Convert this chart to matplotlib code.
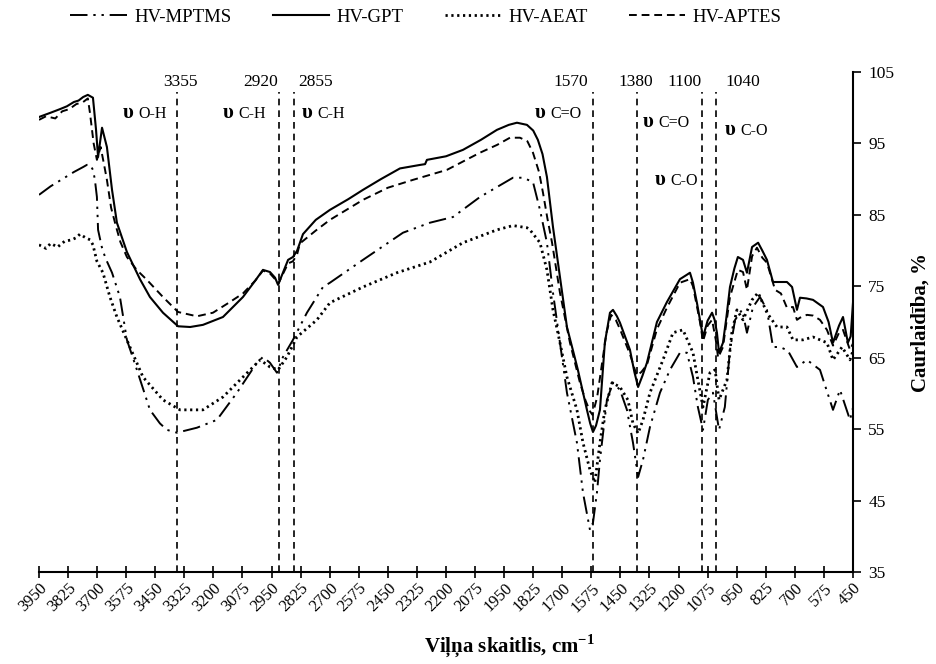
import matplotlib
matplotlib.use("Agg")
import matplotlib.pyplot as plt

plt.rcParams['font.family'] = ['Liberation Serif', 'DejaVu Serif']
plt.rcParams['mathtext.fontset'] = 'custom'
plt.rcParams['mathtext.rm'] = 'Liberation Serif'
plt.rcParams['mathtext.bf'] = 'Liberation Serif:bold'

# ---------------- data ----------------
gpt_w = [3950, 3900, 3860, 3830, 3800, 3780, 3760, 3740, 3718, 3705, 3696, 3679, 3658, 3636, 3615,
         3572, 3516, 3473, 3417, 3352, 3300, 3245, 3159, 3073, 3020, 2987, 2957, 2935, 2922, 2900,
         2879, 2858, 2840, 2815, 2760, 2699, 2620, 2557, 2480, 2398, 2310, 2290, 2282, 2200, 2127,
         2050, 1981, 1930, 1895, 1852, 1825, 1805, 1785, 1766, 1740, 1710, 1680, 1650, 1633, 1610,
         1594, 1580, 1568, 1555, 1538, 1517, 1495, 1482, 1465, 1452, 1409, 1390, 1374, 1355, 1336,
         1293, 1250, 1194, 1165, 1151, 1138, 1120, 1108, 1095, 1075, 1056, 1045, 1035, 1026, 1009,
         995, 979, 960, 945, 923, 906, 884, 858, 840, 820, 794, 760, 734, 712, 691, 678, 650, 622,
         579, 555, 536, 510, 493, 472, 460, 450]
gpt_v = [98.7, 99.3, 99.8, 100.2, 100.8, 101.0, 101.5, 101.8, 101.4, 97.0, 93.1, 97.2, 94.5, 88.5, 83.9,
         79.8, 76.0, 73.5, 71.3, 69.4, 69.3, 69.6, 70.7, 73.5, 75.8, 77.3, 77.0, 76.2, 75.2, 77.0,
         78.7, 79.1, 80.0, 82.3, 84.3, 85.7, 87.2, 88.5, 90.0, 91.5, 92.0, 92.1, 92.7, 93.2, 94.1,
         95.5, 96.9, 97.6, 97.9, 97.6, 96.8, 95.5, 93.5, 90.3, 83.3, 76.3, 69.3, 65.5, 63.3, 60.0,
         57.7, 55.8, 54.6, 55.5, 57.7, 67.1, 71.3, 71.7, 70.8, 69.9, 66.1, 63.0, 60.9, 62.5, 64.3,
         70.0, 72.8, 76.0, 76.6, 76.9, 75.5, 72.5, 70.3, 67.9, 70.2, 71.3, 70.3, 68.5, 65.7, 67.1,
         70.5, 74.9, 77.5, 79.1, 78.7, 76.9, 80.5, 81.1, 80.0, 78.7, 75.6, 75.6, 75.6, 74.9, 71.7,
         73.4, 73.3, 73.1, 72.1, 70.0, 67.1, 69.5, 70.7, 67.1, 68.0, 72.7]

aptes_w = [3950, 3920, 3880, 3850, 3820, 3790, 3760, 3740, 3731, 3715, 3701, 3685, 3670, 3658, 3640,
           3620, 3600, 3572, 3530, 3486, 3417, 3352, 3271, 3202, 3129, 3073, 3020, 2987, 2957, 2935,
           2922, 2900, 2879, 2858, 2840, 2828, 2760, 2699, 2557, 2450, 2342, 2196, 2054, 1980, 1925,
           1882, 1850, 1826, 1800, 1783, 1764, 1744, 1710, 1667, 1624, 1600, 1581, 1570, 1550, 1530,
           1510, 1490, 1470, 1452, 1409, 1380, 1360, 1336, 1293, 1250, 1194, 1151, 1138, 1108, 1095,
           1075, 1056, 1040, 1030, 1009, 979, 945, 923, 906, 884, 863, 840, 820, 785, 760, 734, 708,
           691, 678, 648, 622, 592, 562, 536, 510, 493, 463, 450]
aptes_v = [98.3, 98.8, 98.5, 99.5, 99.8, 100.5, 100.8, 101.3, 99.3, 95.0, 92.7, 94.5, 92.0, 89.9, 86.0,
           83.5, 81.2, 79.1, 77.3, 75.9, 73.5, 71.4, 70.8, 71.3, 72.8, 74.0, 75.8, 77.2, 76.8, 76.0,
           75.3, 76.8, 78.2, 78.5, 79.5, 81.0, 82.8, 84.3, 87.1, 88.8, 89.9, 91.3, 93.7, 94.8, 95.8,
           95.8, 95.3, 93.7, 91.0, 88.1, 84.5, 81.1, 74.1, 67.1, 61.5, 59.0, 57.5, 57.0, 59.5, 64.0,
           68.5, 71.0, 70.3, 69.0, 65.5, 62.5, 63.0, 64.0, 69.0, 72.0, 75.5, 76.0, 75.0, 70.0, 67.3,
           69.5, 70.3, 67.5, 65.0, 66.5, 73.5, 77.3, 77.0, 74.5, 79.2, 80.4, 79.0, 78.3, 74.5, 74.0,
           72.0, 72.1, 70.3, 70.6, 71.0, 70.9, 70.3, 68.9, 66.7, 68.5, 68.9, 66.1, 67.0]

mptms_w = [3950, 3900, 3850, 3800, 3760, 3744, 3730, 3718, 3710, 3701, 3696, 3680, 3665, 3636, 3602,
           3572, 3529, 3473, 3430, 3400, 3357, 3271, 3185, 3099, 3050, 3013, 2987, 2957, 2927, 2901,
           2858, 2798, 2729, 2699, 2557, 2385, 2269, 2170, 2054, 1912, 1869, 1826, 1796, 1766, 1740,
           1710, 1680, 1637, 1611, 1581, 1568, 1551, 1538, 1508, 1482, 1452, 1422, 1396, 1374, 1353,
           1323, 1280, 1237, 1194, 1164, 1138, 1117, 1095, 1074, 1052, 1026, 1001, 979, 957, 927,
           906, 880, 850, 820, 794, 764, 730, 691, 648, 592, 536, 506, 463, 450]
mptms_v = [87.8, 89.0, 90.0, 91.0, 91.7, 92.0, 92.0, 91.3, 90.0, 87.5, 82.9, 80.5, 79.0, 76.9, 73.5,
           67.5, 63.3, 57.7, 55.8, 54.9, 54.5, 55.2, 56.3, 60.1, 62.5, 64.3, 65.1, 64.3, 62.9, 65.1,
           67.5, 71.3, 74.9, 75.5, 78.7, 82.5, 83.9, 84.7, 87.5, 90.2, 90.2, 89.6, 85.7, 81.1, 74.1,
           67.1, 60.1, 53.1, 46.1, 40.9, 41.9, 46.1, 50.7, 59.1, 61.5, 60.5, 57.7, 53.1, 48.3, 50.7,
           55.3, 60.1, 63.3, 65.7, 65.7, 62.3, 58.1, 54.9, 59.1, 60.1, 54.9, 58.1, 66.1, 70.3, 71.7,
           68.5, 72.1, 73.5, 71.7, 66.5, 66.5, 66.0, 63.7, 64.7, 63.3, 57.7, 60.5, 56.3, 58.0]

aeat_w = [3950, 3920, 3900, 3870, 3840, 3810, 3790, 3774, 3750, 3730, 3718, 3701, 3675, 3645, 3615,
          3559, 3503, 3417, 3344, 3245, 3159, 3073, 2999, 2957, 2922, 2884, 2841, 2755, 2699, 2557,
          2411, 2269, 2127, 1981, 1912, 1852, 1839, 1796, 1766, 1740, 1710, 1680, 1637, 1611, 1581,
          1560, 1538, 1517, 1486, 1452, 1418, 1396, 1374, 1353, 1323, 1267, 1224, 1181, 1138, 1117,
          1095, 1065, 1043, 1026, 992, 971, 949, 923, 884, 858, 820, 777, 734, 708, 665, 622, 562,
          536, 497, 463, 450]
aeat_v = [80.8, 80.3, 81.0, 80.5, 81.3, 81.5, 81.8, 82.3, 81.8, 81.5, 80.8, 78.5, 76.9, 73.5, 70.7,
          66.5, 62.3, 59.1, 57.7, 57.7, 59.5, 62.3, 64.7, 63.7, 63.3, 65.1, 67.9, 70.3, 72.7, 74.9,
          76.9, 78.4, 81.1, 82.9, 83.5, 83.2, 82.9, 81.1, 77.3, 71.7, 67.1, 62.3, 57.7, 53.1, 49.3,
          47.5, 53.1, 57.7, 61.5, 60.9, 59.1, 55.8, 54.4, 56.3, 60.1, 64.7, 68.5, 68.9, 65.7, 61.9,
          58.1, 62.9, 63.3, 59.1, 61.9, 68.5, 71.7, 70.3, 73.1, 74.1, 71.3, 69.3, 69.3, 67.5, 67.5,
          67.9, 67.1, 64.7, 66.5, 64.7, 66.0]

peak_positions = [3355, 2920, 2855, 1570, 1380, 1100, 1040]
peak_labels = ["3355", "2920", "2855", "1570", "1380", "1100", "1040"]
x_ticks = list(range(3950, 449, -125))
y_ticks = [35, 45, 55, 65, 75, 85, 95, 105]

# ---------------- figure ----------------
W, H = 937, 664
fig = plt.figure(figsize=(W / 100, H / 100), dpi=100)
ax = fig.add_axes([39 / W, 1 - 572 / H, (853 - 39) / W, (572 - 72) / H])

ax.plot(mptms_w, mptms_v, color='black', lw=1.4, ls=(0, (9, 3, 1.2, 3, 1.2, 3)), label='HV-MPTMS')
ax.plot(gpt_w, gpt_v, color='black', lw=1.5, ls='-', label='HV-GPT')
ax.plot(aeat_w, aeat_v, color='black', lw=2.0, ls=(0, (0.8, 1.3)), label='HV-AEAT')
ax.plot(aptes_w, aptes_v, color='black', lw=1.4, ls=(0, (4, 2.5)), label='HV-APTES')

ax.vlines(peak_positions, 35, 102.2, colors='black', linestyles=(0, (4, 3)), lw=1.2)

ax.set_xlim(3950, 450)
ax.set_ylim(35, 105)
ax.set_xticks(x_ticks)
ax.set_xticklabels([str(t) for t in x_ticks], rotation=45, ha='right', rotation_mode='anchor',
                   fontsize=12)
ax.set_yticks(y_ticks)
ax.yaxis.tick_right()
ax.yaxis.set_label_position('right')
ax.tick_params(axis='y', direction='out', length=6, width=1.2, labelsize=12.5, pad=5)
ax.tick_params(axis='x', direction='inout', length=8, width=1.2, pad=2)
for s in ['left', 'top']:
    ax.spines[s].set_visible(False)
for s in ['bottom', 'right']:
    ax.spines[s].set_linewidth(1.5)

ax.set_xlabel(r"Viļņa skaitlis, cm$^{\mathbf{-1}}$", fontsize=15, fontweight='bold', va='center')
ax.xaxis.set_label_coords((509 - 39) / 814, -(646 - 572) / 500)
ax.set_ylabel("Caurlaidība, %", fontsize=15, fontweight='bold', labelpad=12)


def fx(px):
    return px / W


def fy(py):
    return 1 - py / H


# peak numbers at the top
num_pos = [(180, 'center'), (278, 'right'), (298, 'left'), (588, 'right'),
           (636, 'center'), (702, 'right'), (725, 'left')]
for (px, ha), txt in zip(num_pos, peak_labels):
    fig.text(fx(px), fy(82), txt, ha=ha, va='center', fontsize=12.5)

# vibration labels
nu_labels = [(123, 113, "O-H"), (223, 113, "C-H"), (302, 113, "C-H"), (535, 113, "C=O"),
             (643, 122, "C=O"), (725, 130, "C-O"), (655, 180, "C-O")]
for px, py, txt in nu_labels:
    fig.text(fx(px), fy(py), "υ", ha='left', va='center', fontsize=15, fontweight='bold')
    fig.text(fx(px + 15), fy(py + 1), txt, ha='left', va='center', fontsize=11.5)

fig.legend(loc='center', bbox_to_anchor=(fx(426), fy(17)), ncol=4, frameon=False,
           fontsize=13.5, handlelength=3.0, columnspacing=2.2, handletextpad=0.4)

fig.savefig('out.png', dpi=100)
